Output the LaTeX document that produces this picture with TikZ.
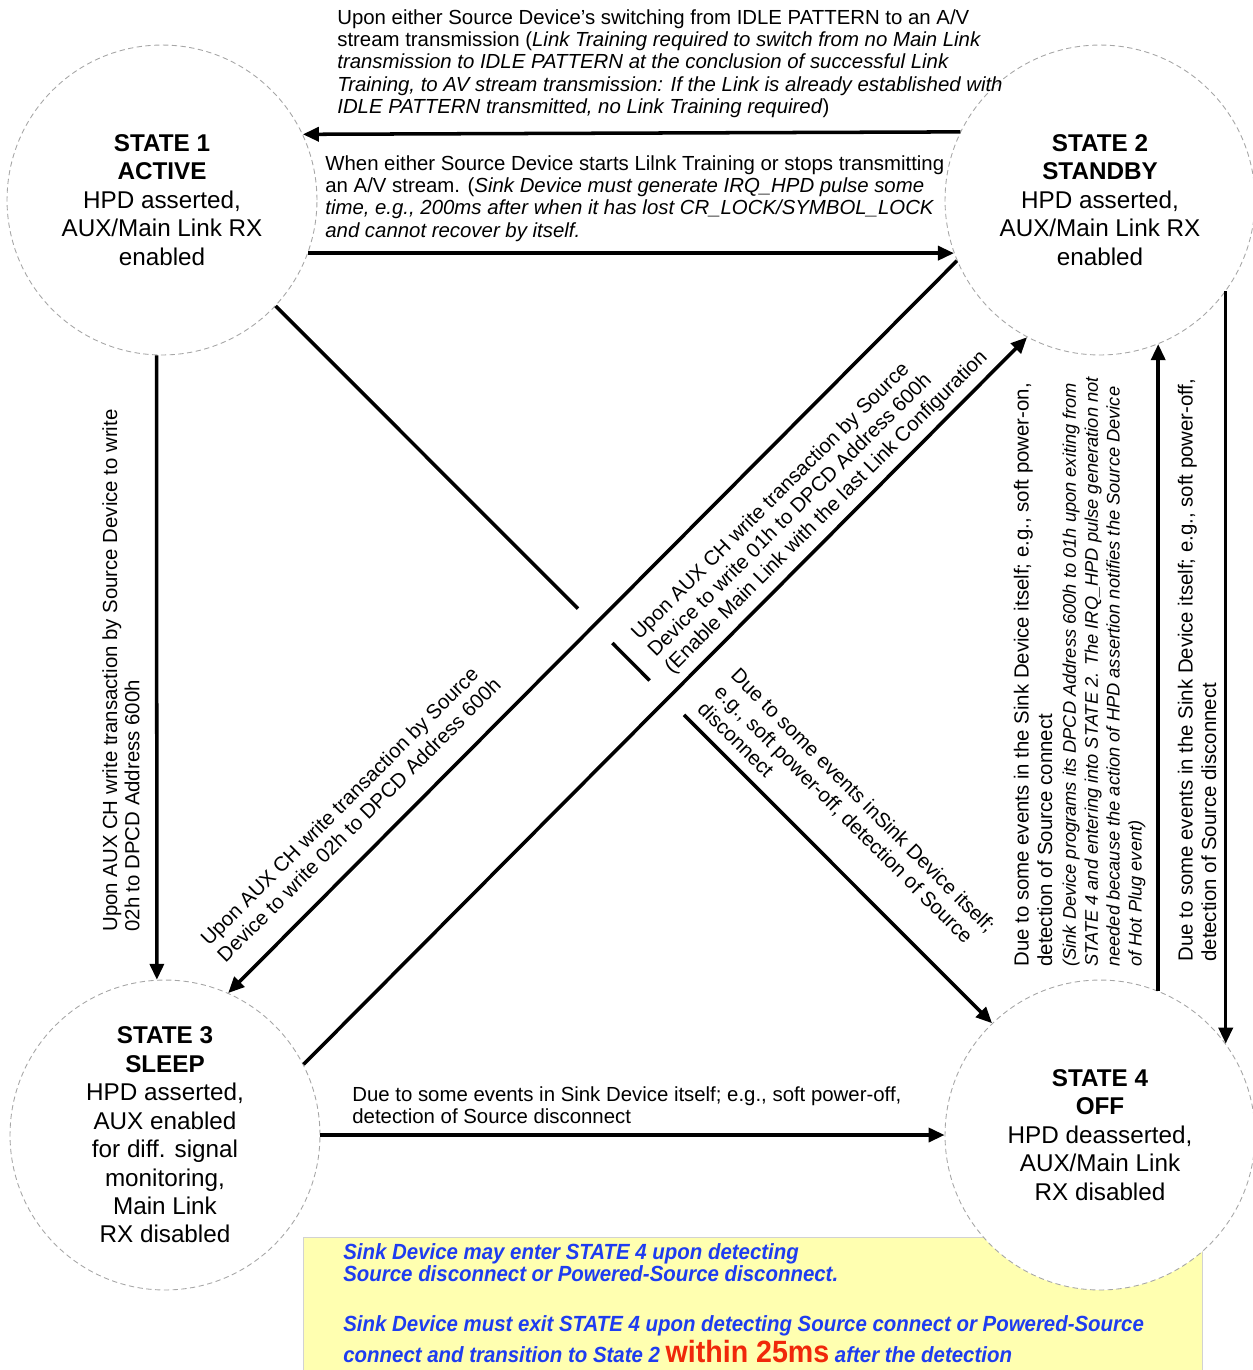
\documentclass[tikz,border=0pt]{standalone}
\usepackage{fontspec}
\setmainfont{Liberation Sans}
\newfontfamily\narrowfont[FakeStretch=0.93]{Liberation Sans}
\usetikzlibrary{arrows.meta,calc}
\definecolor{noteblue}{HTML}{1E3CF0}
\definecolor{notered}{HTML}{F0280A}
\definecolor{noteyellow}{HTML}{FFFFB0}

\begin{document}
\begin{tikzpicture}[x=0.02cm, y=-0.02cm,
  stateC/.style ={circle, draw=gray!70, densely dashed, line width=0.5pt, fill=white, minimum size=6.2cm, inner sep=0pt, align=center, font=\fontsize{13.8}{16.2}\selectfont},
  trans/.style  ={line width=2pt, -{Triangle[length=0.32cm,width=0.28cm]}},
  plain/.style  ={line width=2pt},
  lbl/.style    ={font=\fontsize{11.6}{12.7}\selectfont, align=left, inner sep=0pt},
  lbldiag/.style={font=\fontsize{11.6}{13.4}\selectfont, align=left, inner sep=0pt},
  lblsmall/.style={font=\fontsize{10.4}{12.5}\selectfont\itshape, align=left, inner sep=0pt},
  boxtxt/.style ={font=\fontsize{12.5}{12.6}\narrowfont\bfseries\itshape, text=noteblue, align=left, inner sep=0pt},
]
% picture area in pixels of the original sheet (1253 x 1370), y grows downwards
\useasboundingbox (0,0) rectangle (1253,1370);

% yellow note at the bottom
\fill[noteyellow, draw=gray!35, line width=0.4pt] (303,1237) rectangle (1202,1372);
\node[boxtxt, anchor=north west] (n1) at (343,1243) {Sink Device may enter STATE 4 upon detecting\\Source disconnect or Powered-Source disconnect.};
\node[boxtxt, anchor=north west] (n2) at (343,1315) {Sink Device must exit STATE 4 upon detecting Source connect or Powered-Source\\[1.5pt]connect and transition to State 2 {\color{notered}\upshape\fontsize{17.5}{18}\selectfont within 25ms} after the detection};

% the four states
\node[stateC] (s1) at (162,200)  {\textbf{STATE 1}\\\textbf{ACTIVE}\\HPD asserted,\\AUX/Main Link RX\\enabled};
\node[stateC] (s2) at (1100,200) {\textbf{STATE 2}\\\textbf{STANDBY}\\HPD asserted,\\AUX/Main Link RX\\enabled};
\node[stateC] (s3) at (165,1135) {\textbf{STATE 3}\\\textbf{SLEEP}\\HPD asserted,\\AUX enabled\\for diff. signal\\monitoring,\\Main Link\\RX disabled};
\node[stateC] (s4) at (1100,1135) {\textbf{STATE 4}\\\textbf{OFF}\\HPD deasserted,\\AUX/Main Link\\RX disabled};

% transitions
\draw[trans] (s2.154.4) -- (s1.25.6);
\draw[trans] (s1.-20.4) -- (s2.200.4);
\draw[trans] (s1.268) -- (s3.93.2);
\draw[trans] (s2.203.6) -- (s3.66.5);
\draw[trans] (s3.27.5) -- (s2.242.4);
\draw[trans] (s4.68.4) -- (s2.-68.4);
\draw[trans] (s2.-36.3) -- (s4.36.3);
\draw[trans] (s3.east) -- (s4.west);
% STATE 1 -> STATE 4 jumps over the two other diagonals
\coordinate (d1) at (s1.-43.7);
\coordinate (d4) at (s4.134.2);
\draw[plain] (d1) -- ($(d1)!0.422!(d4)$);
\draw[plain] ($(d1)!0.47!(d4)$) -- ($(d1)!0.522!(d4)$);
\draw[trans] ($(d1)!0.57!(d4)$) -- (d4);

% labels
\node[lbl, anchor=north west] (l21) at (337,9) {Upon either Source Device’s switching from IDLE PATTERN to an A/V\\stream transmission (\textit{Link Training required to switch from no Main Link}\\\textit{transmission to IDLE PATTERN at the conclusion of successful Link}\\\textit{Training, to AV stream transmission: If the Link is already established with}\\\textit{IDLE PATTERN transmitted, no Link Training required})};
\node[lbl, anchor=north west] (l12) at (325,155) {When either Source Device starts Lilnk Training or stops transmitting\\an A/V stream. (\textit{Sink Device must generate IRQ\_HPD pulse some}\\\textit{time, e.g., 200ms after when it has lost CR\_LOCK/SYMBOL\_LOCK}\\\textit{and cannot recover by itself.}};
\node[lbl, rotate=90, anchor=west] (l13) at (121,932) {Upon AUX CH write transaction by Source Device to write\\02h to DPCD Address 600h};
\node[lbldiag, rotate=45, anchor=west] (l23) at (212,950) {Upon AUX CH write transaction by Source\\Device to write 02h to DPCD Address 600h};
\node[lbldiag, rotate=45, anchor=west] (l32) at (652,654) {Upon AUX CH write transaction by Source\\Device to write 01h to DPCD Address 600h\\(Enable Main Link with the last Link Configuration};
\node[lbldiag, rotate=-45, anchor=west] (l14) at (718,688) {Due to some events inSink Device itself;\\e.g., soft power-off, detection of Source\\disconnect};
\node[lbldiag, rotate=90, anchor=west] (l42) at (1033,967) {Due to some events in the Sink Device itself; e.g., soft power-on,\\detection of Source connect};
\node[lblsmall, rotate=90, anchor=west] (n42) at (1104,967) {(Sink Device programs its DPCD Address 600h to 01h upon exiting from\\STATE 4 and entering into STATE 2. The IRQ\_HPD pulse generation not\\needed because the action of HPD assertion notifies the Source Device\\of Hot Plug event)};
\node[lbldiag, rotate=90, anchor=west] (l24) at (1197,962) {Due to some events in the Sink Device itself; e.g., soft power-off,\\detection of Source disconnect};
\node[lbl, anchor=north west] (l34) at (352,1086) {Due to some events in Sink Device itself; e.g., soft power-off,\\detection of Source disconnect};
\end{tikzpicture}
\end{document}
